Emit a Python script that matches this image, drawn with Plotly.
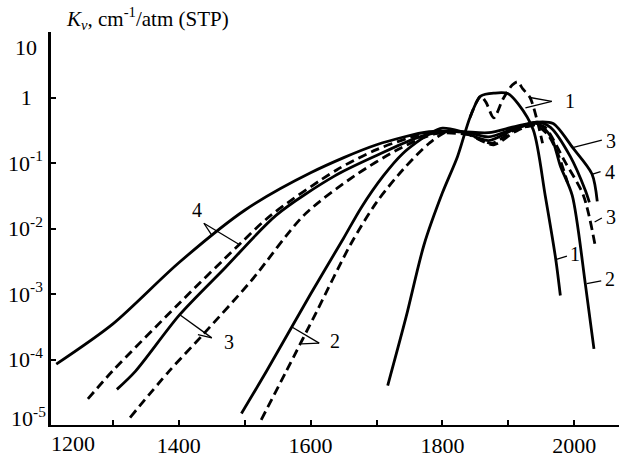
import plotly.graph_objects as go

# ---------------- data (wavenumber cm^-1, K in cm^-1/atm) ----------------
s1_x = [1717, 1745, 1772, 1800, 1823, 1842, 1858, 1880, 1899, 1915, 1938, 1956, 1972, 1979]
s1_y = [4.0e-5, 4.5e-4, 5.6e-3, 3.5e-2, 0.126, 0.50, 1.05, 1.17, 1.15, 0.80, 0.32, 0.032, 0.0034, 0.00095]

d1_x = [1842, 1858, 1866, 1878, 1892, 1906, 1914, 1922, 1933, 1945, 1952]
d1_y = [0.50, 1.05, 0.85, 0.49, 0.95, 1.55, 1.74, 1.35, 1.0, 0.40, 0.20]

s2_x = [1495, 1533, 1600, 1650, 1677, 1710, 1740, 1780, 1800, 1830, 1870, 1910, 1944, 1965, 1979, 1997, 2017, 2030]
s2_y = [1.5e-5, 6.6e-5, 1.0e-3, 7.1e-3, 2.1e-2, 6.3e-2, 0.14, 0.28, 0.34, 0.30, 0.22, 0.33, 0.40, 0.25, 0.09, 0.032, 0.0014, 0.000145]

d2_x = [1525, 1563, 1610, 1661, 1700, 1740, 1780, 1810, 1840, 1878, 1910, 1940, 1960, 1975, 1990]
d2_y = [1.2e-5, 6.6e-5, 5.6e-4, 5.8e-3, 2.5e-2, 7.9e-2, 0.20, 0.31, 0.27, 0.19, 0.30, 0.38, 0.27, 0.14, 0.05]

s3_x = [1306, 1334, 1401, 1470, 1548, 1636, 1700, 1760, 1800, 1840, 1870, 1910, 1944, 1964, 1994, 2017, 2023]
s3_y = [3.5e-5, 6.6e-5, 4.8e-4, 2.5e-3, 1.6e-2, 6.3e-2, 0.13, 0.24, 0.30, 0.29, 0.25, 0.34, 0.42, 0.35, 0.126, 0.038, 0.025]

d3_x = [1326, 1385, 1435, 1510, 1590, 1666, 1737, 1790, 1840, 1875, 1910, 1945, 1956, 1986, 2014, 2032]
d3_y = [1.3e-5, 6.6e-5, 2.3e-4, 1.6e-3, 1.6e-2, 6.3e-2, 0.17, 0.28, 0.27, 0.20, 0.32, 0.38, 0.35, 0.105, 0.032, 0.0054]

s4_x = [1214, 1300, 1400, 1500, 1600, 1700, 1780, 1830, 1870, 1910, 1944, 1968, 1998, 2027, 2035]
s4_y = [8.5e-5, 3.5e-4, 3.0e-3, 1.9e-2, 7.1e-2, 0.19, 0.30, 0.30, 0.29, 0.36, 0.42, 0.40, 0.17, 0.068, 0.026]

d4_x = [1262, 1299, 1400, 1491, 1540, 1640, 1700, 1760, 1800]
d4_y = [2.5e-5, 6.6e-5, 7.1e-4, 5.6e-3, 1.6e-2, 7.9e-2, 0.16, 0.26, 0.30]

x_major = [1400, 1600, 1800, 2000]
x_minor = [1300, 1500, 1700, 1900]
y_major = [1, 0.1, 0.01, 0.001, 0.0001]
y_ticktext = ["1\u2007", "10<sup>-1</sup>", "10<sup>-2</sup>", "10<sup>-3</sup>", "10<sup>-4</sup>"]
y_minor = [10]

FONT = "Liberation Serif"
LW = 2.8
DASH = "9px,5px"
BLACK = "black"

fig = go.Figure()
series = [
    (s4_x, s4_y, "solid"), (d4_x, d4_y, DASH),
    (s3_x, s3_y, "solid"), (d3_x, d3_y, DASH),
    (s2_x, s2_y, "solid"), (d2_x, d2_y, DASH),
    (s1_x, s1_y, "solid"), (d1_x, d1_y, DASH),
]
for xs, ys, dash in series:
    fig.add_trace(go.Scatter(x=xs, y=ys, mode="lines",
                             line=dict(color=BLACK, width=LW, dash=dash,
                                       shape="spline", smoothing=0.8),
                             showlegend=False, hoverinfo="skip"))

ann = []
def label(text, x, logy, **kw):
    d = dict(text=text, x=x, y=logy, xref="x", yref="y", showarrow=False,
             font=dict(family=FONT, size=20, color=BLACK))
    d.update(kw)
    ann.append(d)

def leader(x0, ly0, x1, ly1):
    fig.add_trace(go.Scatter(x=[x0, x1], y=[10 ** ly0, 10 ** ly1], mode="lines",
                             line=dict(color=BLACK, width=1.3),
                             showlegend=False, hoverinfo="skip"))

# curve labels with leader lines (y given in log10 units)
label("1", 1983, -0.06, xanchor="left")
leader(1966, -0.06, 1933, 0.0)
leader(1966, -0.06, 1926, -0.16)
label("3", 2045, -0.66, xanchor="left")
leader(2042, -0.65, 1999, -0.76)
label("4", 2043, -1.13, xanchor="left")
leader(2040, -1.13, 2028, -1.17)
label("3", 2045, -1.83, xanchor="left")
leader(2042, -1.84, 2031, -1.90)
label("1", 1991, -2.39, xanchor="left")
leader(1989, -2.42, 1973, -2.47)
label("2", 2043, -2.77, xanchor="left")
leader(2041, -2.80, 2019, -2.84)
label("4", 1427, -1.72)
leader(1438, -1.92, 1450, -2.10)
leader(1438, -1.92, 1491, -2.24)
label("3", 1466, -3.73, xanchor="left")
leader(1450, -3.67, 1402, -3.32)
leader(1450, -3.67, 1429, -3.62)
label("2", 1626, -3.72, xanchor="left")
leader(1613, -3.75, 1571, -3.50)
leader(1613, -3.75, 1586, -3.76)

# end tick labels drawn beside their ticks, as in the original
ann.append(dict(text="10", x=-0.021, y=0.76, xref="paper", yref="y", xanchor="right",
                showarrow=False, font=dict(family=FONT, size=22, color=BLACK)))
ann.append(dict(text="10<sup>-5</sup>", x=-0.005, y=-4.88, xref="paper", yref="y",
                xanchor="right", showarrow=False,
                font=dict(family=FONT, size=22, color=BLACK)))
ann.append(dict(text="1200", x=1240, y=-0.047, xref="x", yref="paper", yanchor="middle",
                showarrow=False, font=dict(family=FONT, size=22, color=BLACK)))
# axis title
ann.append(dict(text="<i>K</i><sub><i>ν</i></sub>, cm<sup>-1</sup>/atm (STP)",
                x=0.023, y=1.035, xref="paper", yref="paper", xanchor="left",
                yanchor="middle", showarrow=False,
                font=dict(family=FONT, size=21, color=BLACK)))

fig.update_layout(
    width=627, height=466,
    margin=dict(l=49, r=8, t=32, b=31),
    paper_bgcolor="white", plot_bgcolor="white",
    annotations=ann,
    xaxis=dict(range=[1206, 2068], tickvals=x_major,
               ticks="inside", ticklen=5, tickwidth=2, tickcolor=BLACK,
               minor=dict(tickvals=x_minor, ticks="inside", ticklen=5,
                          tickwidth=2, tickcolor=BLACK, showgrid=False),
               showline=True, linewidth=2, linecolor=BLACK,
               showgrid=False, zeroline=False,
               tickfont=dict(family=FONT, size=22, color=BLACK)),
    yaxis=dict(type="log", range=[-5, 1], tickvals=y_major, ticktext=y_ticktext,
               ticks="inside", ticklen=5, tickwidth=2, tickcolor=BLACK,
               minor=dict(tickvals=y_minor, ticks="inside", ticklen=5,
                          tickwidth=2, tickcolor=BLACK, showgrid=False),
               showline=True, linewidth=2.5, linecolor=BLACK,
               showgrid=False, zeroline=False, ticklabelstandoff=1,
               tickfont=dict(family=FONT, size=22, color=BLACK)),
)

fig.write_html("out.html",
               config={"displayModeBar": False},
               post_script="document.body.style.margin='0';"
                           "document.body.style.overflow='hidden';")
